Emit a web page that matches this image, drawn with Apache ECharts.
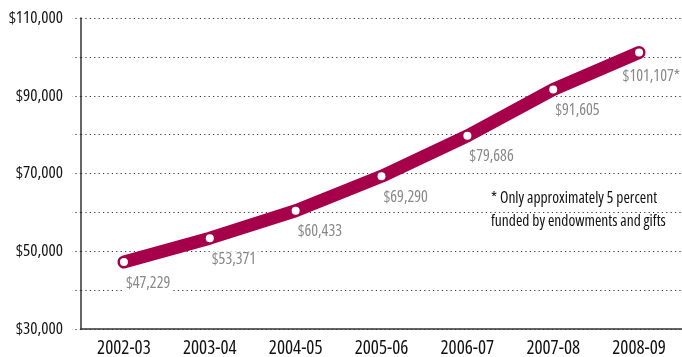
<!DOCTYPE html>
<html><head><meta charset="utf-8">
<script src="https://cdn.jsdelivr.net/npm/echarts@6/dist/echarts.min.js"></script>
<style>html,body{margin:0;padding:0;background:#fff}#c{width:682px;height:357px}</style>
</head><body><div id="c"></div>
<script>
const categories = ['2002-03','2003-04','2004-05','2005-06','2006-07','2007-08','2008-09'];
const costs = [47229, 53371, 60433, 69290, 79686, 91605, 101107];
const yTicks = [30000, 50000, 70000, 90000, 110000];
const noteLines = ['* Only approximately 5 percent', 'funded by endowments and gifts'];
const FONT = "'Open Sans',sans-serif";
const FW = 'condensed';
const W = 682;
const last = costs.length - 1;
const fmt = v => '$' + v.toLocaleString('en-US');
const chart = echarts.init(document.getElementById('c'));
chart.setOption({
  animation: false,
  grid: {left: 81, right: 0, top: 18, bottom: 28, outerBoundsMode: 'none', containLabel: false},
  xAxis: {
    type: 'category', data: categories, boundaryGap: true,
    axisLine: {lineStyle: {color: '#333', width: 1.5}},
    axisTick: {show: false},
    axisLabel: {color: '#111', fontFamily: FONT, fontWeight: FW, fontSize: 19, margin: 10}
  },
  yAxis: {
    type: 'value', min: 30000, max: 110000, interval: 10000,
    axisLine: {show: true, lineStyle: {color: '#333', width: 1.5}},
    axisTick: {show: true, length: 9, lineStyle: {color: '#333', type: [1.2, 3.2], width: 1}},
    splitLine: {lineStyle: {color: '#333', type: [1.2, 3.2], width: 1}},
    axisLabel: {
      color: '#151515', fontFamily: FONT, fontWeight: FW, fontSize: 17, margin: 18,
      formatter: v => yTicks.includes(v) ? fmt(v) : ''
    }
  },
  series: [{
    type: 'line',
    data: costs.map((v, i) => i === last ? {value: v, label: {backgroundColor: 'transparent'}} : v),
    lineStyle: {color: '#a6004b', width: 13, cap: 'round', join: 'round'},
    symbol: 'circle', symbolSize: 8,
    itemStyle: {color: '#fff', borderWidth: 0},
    label: {
      show: true, position: 'bottom', align: 'left', distance: 9, offset: [-3, 0],
      color: '#888', fontFamily: FONT, fontWeight: FW, fontSize: 16,
      backgroundColor: '#fff', padding: [0, 2],
      formatter: p => fmt(p.value) + (p.dataIndex === last ? '*' : '')
    },
    labelLayout: p => {
      const r = p.labelRect;
      const over = r.x + r.width - W;
      return over > 0 ? {x: r.x - over, y: r.y + 3} : {};
    },
    z: 3
  }],
  graphic: [{
    type: 'text', left: 487, top: 187,
    style: {
      text: noteLines.join('\n'), fill: '#111', fontFamily: FONT, fontWeight: FW, fontSize: 15.5,
      lineHeight: 23, backgroundColor: '#fff', padding: [0, 4]
    }
  }]
});
</script></body></html>
